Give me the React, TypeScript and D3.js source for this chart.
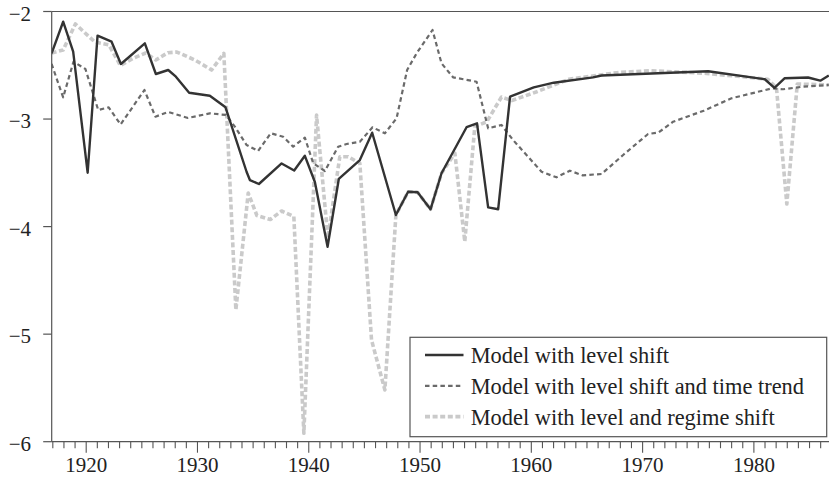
import React from "react";
import * as d3 from "d3";

const blackYears = [1916.89, 1917.93, 1918.83, 1920.13, 1921.02, 1922.28, 1923.12, 1925.27, 1926.26, 1927.37, 1928.06, 1929.25, 1931.11, 1932.52, 1934.41, 1934.71, 1935.52, 1937.56, 1938.69, 1939.65, 1940.55, 1941.69, 1942.7, 1944.59, 1945.7, 1947.83, 1948.93, 1949.78, 1950.94, 1951.93, 1954.18, 1955.12, 1956.12, 1957.02, 1958.09, 1960.22, 1962.02, 1965.55, 1966.31, 1975.89, 1980.98, 1981.85, 1982.75, 1984.87, 1985.97, 1986.73];
const blackValues = [-2.39, -2.095, -2.374, -3.499, -2.225, -2.281, -2.488, -2.296, -2.581, -2.544, -2.606, -2.755, -2.783, -2.891, -3.49, -3.567, -3.604, -3.413, -3.478, -3.342, -3.585, -4.187, -3.557, -3.381, -3.127, -3.892, -3.676, -3.681, -3.839, -3.504, -3.076, -3.04, -3.821, -3.839, -2.792, -2.705, -2.662, -2.612, -2.595, -2.556, -2.63, -2.711, -2.621, -2.614, -2.643, -2.595];

const trendYears = [1916.89, 1917.93, 1918.86, 1919.93, 1921.08, 1922.02, 1923.09, 1925.23, 1926.22, 1927.37, 1929.14, 1931.11, 1932.55, 1933.36, 1934.41, 1935.45, 1936.59, 1937.7, 1938.6, 1939.65, 1940.4, 1941.45, 1942.64, 1943.4, 1944.59, 1945.73, 1946.84, 1947.89, 1948.84, 1949.69, 1951.12, 1951.93, 1952.97, 1955.08, 1956.12, 1957.32, 1958.36, 1960.92, 1962.26, 1963.46, 1964.58, 1966.31, 1968.25, 1970.49, 1971.43, 1972.74, 1975.5, 1977.99, 1981.65, 1982.62, 1984.42, 1986.73];
const trendValues = [-2.488, -2.798, -2.467, -2.535, -2.916, -2.891, -3.051, -2.73, -2.978, -2.934, -2.99, -2.947, -2.962, -3.071, -3.241, -3.297, -3.132, -3.164, -3.257, -3.173, -3.411, -3.483, -3.257, -3.232, -3.211, -3.077, -3.133, -2.993, -2.544, -2.389, -2.172, -2.482, -2.612, -2.653, -3.086, -3.055, -3.195, -3.49, -3.542, -3.48, -3.523, -3.511, -3.334, -3.139, -3.125, -3.025, -2.922, -2.807, -2.714, -2.723, -2.699, -2.683];

const regimeYears = [1916.89, 1917.93, 1919.03, 1920.78, 1922.04, 1923.07, 1924.22, 1925.35, 1926.26, 1927.34, 1928.15, 1929.77, 1931.27, 1932.37, 1933.45, 1934.56, 1935.34, 1936.55, 1937.56, 1938.66, 1939.56, 1940.7, 1941.72, 1942.79, 1943.54, 1944.59, 1945.64, 1946.84, 1947.83, 1948.93, 1949.78, 1950.94, 1951.93, 1953.13, 1954.02, 1954.92, 1956.0, 1957.32, 1958.25, 1960.49, 1963.37, 1967.66, 1970.65, 1975.74, 1981.25, 1982.03, 1982.96, 1983.9, 1986.73];
const regimeValues = [-2.386, -2.358, -2.116, -2.284, -2.311, -2.502, -2.435, -2.386, -2.451, -2.383, -2.377, -2.451, -2.544, -2.389, -4.775, -3.688, -3.897, -3.934, -3.855, -3.906, -5.922, -2.962, -4.106, -3.35, -3.35, -3.411, -5.054, -5.519, -3.892, -3.676, -3.681, -3.839, -3.504, -3.318, -4.14, -3.071, -3.025, -2.795, -2.828, -2.746, -2.63, -2.569, -2.55, -2.575, -2.63, -2.711, -3.79, -2.674, -2.683];

const yTicks = [-2, -3, -4, -5, -6];
const xMajorTicks = [1920, 1930, 1940, 1950, 1960, 1970, 1980];
const legendLabels = [
  "Model with level shift",
  "Model with level shift and time trend",
  "Model with level and regime shift",
];

const W = 829;
const H = 477;

function Label(props: { x: number; y: number; size: number; anchor?: string; children: React.ReactNode }) {
  return (
    <text
      x={props.x}
      y={props.y}
      textAnchor={props.anchor || "start"}
      fontFamily="Liberation Serif"
      fontSize={props.size}
      fill="#222"
      style={{ fontFamily: "Liberation Serif", fontSize: props.size + "px" }}
    >
      {props.children}
    </text>
  );
}

export default function App() {
  const x = d3.scaleLinear().domain([1916.9, 1986.75]).range([51.7, 829]);
  const y = d3.scaleLinear().domain([-2, -6]).range([11.5, 441.7]);
  const line = d3
    .line<[number, number]>()
    .x((d) => x(d[0]))
    .y((d) => y(d[1]));

  const zip = (a: number[], b: number[]) => a.map((v, i) => [v, b[i]] as [number, number]);
  const series = [
    { data: zip(regimeYears, regimeValues), stroke: "#cacaca", width: 3.6, dash: "5,2.6" },
    { data: zip(trendYears, trendValues), stroke: "#6a6a6a", width: 2.2, dash: "4.5,3.2" },
    { data: zip(blackYears, blackValues), stroke: "#333333", width: 2.4, dash: "" },
  ];
  const legendStyles = [series[2], series[1], series[0]];

  const minorTicks = d3.range(1917, 1987);
  const x0 = x.range()[0];
  const y0 = y(-6);

  return (
    <svg width={W} height={H} style={{ position: "absolute", left: 0, top: 0 }}>
      <defs>
        <clipPath id="plotclip">
          <rect x={x0} y={0} width={W - x0} height={y0} />
        </clipPath>
      </defs>
      <g clipPath="url(#plotclip)">
        {series.map((s, i) => (
          <path
            key={i}
            d={line(s.data) || ""}
            fill="none"
            stroke={s.stroke}
            strokeWidth={s.width}
            strokeDasharray={s.dash || undefined}
            strokeLinejoin="round"
          />
        ))}
      </g>
      <line x1={x0} x2={W} y1={y(-2)} y2={y(-2)} stroke="#555" strokeWidth={1.2} />
      <line x1={x0} x2={x0} y1={y(-2)} y2={y0} stroke="#555" strokeWidth={1.2} />
      <line x1={x0} x2={W} y1={y0} y2={y0} stroke="#555" strokeWidth={1.2} />
      {yTicks.map((t) => (
        <g key={t}>
          <line x1={x0 - 8.5} x2={x0} y1={y(t)} y2={y(t)} stroke="#555" strokeWidth={1.2} />
          <Label x={31} y={y(t) + 9} size={21} anchor="end">
            {"\u2212" + Math.abs(t)}
          </Label>
        </g>
      ))}
      {minorTicks.map((t) => (
        <line
          key={t}
          x1={x(t)}
          x2={x(t)}
          y1={y0}
          y2={y0 + (t % 10 === 0 ? 11 : 6.5)}
          stroke="#555"
          strokeWidth={1.1}
        />
      ))}
      {xMajorTicks.map((t) => (
        <Label key={t} x={x(t)} y={471.5} size={21} anchor="middle">
          {String(t)}
        </Label>
      ))}
      <rect x={410} y={337.3} width={416.7} height={99.4} fill="#fff" stroke="#555" strokeWidth={1.2} />
      {legendLabels.map((lab, i) => {
        const s = legendStyles[i];
        const ly = 355 + i * 30.8;
        return (
          <g key={lab}>
            <line
              x1={425}
              x2={463.5}
              y1={ly}
              y2={ly}
              stroke={s.stroke}
              strokeWidth={s.width}
              strokeDasharray={s.dash || undefined}
            />
            <Label x={470.7} y={ly + 8} size={22.4}>
              {lab}
            </Label>
          </g>
        );
      })}
    </svg>
  );
}
